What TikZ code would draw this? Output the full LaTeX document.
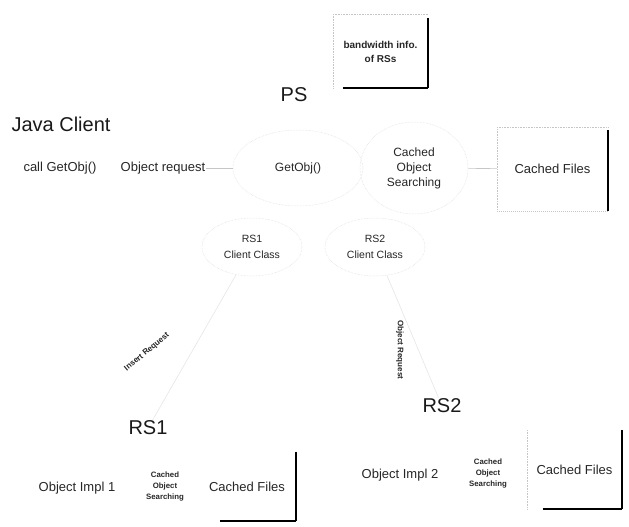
\documentclass[tikz,border=0pt]{standalone}
\usepackage{fontspec}
\setmainfont{Liberation Sans}
\usetikzlibrary{shapes.geometric}
\begin{document}
\begin{tikzpicture}[x=1pt,y=-1pt,
  lbl/.style={font=\fontsize{13}{15}\selectfont, inner sep=1pt, text=black!85, align=center},
  big/.style={font=\fontsize{20}{22}\selectfont, inner sep=1pt, text=black!90},
  mid/.style={font=\fontsize{10.5}{16}\selectfont, inner sep=1pt, text=black!85, align=center},
  small/.style={font=\fontsize{7.8}{11}\selectfont\bfseries, align=center, inner sep=1pt, text=black!85},
  rotlbl/.style={font=\fontsize{8}{9}\selectfont\bfseries, inner sep=1pt, text=black!85},
  oval/.style={ellipse, draw=gray!30, densely dotted, line width=0.5pt, inner sep=0pt},
  filebox/.style={rectangle, inner sep=0pt},
  faint/.style={draw=gray!45, densely dotted, line width=0.6pt},
  heavy/.style={draw=black, line width=1.5pt},
  conn/.style={draw=gray!45, line width=0.6pt},
]
\useasboundingbox (0,0) rectangle (629,527);

% --- bandwidth box ---
\node[filebox, minimum width=95pt, minimum height=73pt,
      font=\fontsize{10}{14}\selectfont\bfseries, align=center, text=black!85] (bw) at (380.5,51.5) {bandwidth info.\\of RSs};
\draw[faint] (bw.south west) -- (bw.north west) -- (bw.north east);
\draw[heavy] ([yshift=-3pt]bw.north east) -- (bw.south east);
\draw[heavy] ([xshift=10pt]bw.south west) -- (bw.south east);

% --- titles ---
\node[big] (ps) at (294,95) {PS};
\node[big] (jc) at (61,124) {Java Client};
\node[big] (rs1) at (148,428) {RS1};
\node[big] (rs2) at (442,406) {RS2};

% --- Java client row ---
\node[lbl] (call) at (60,168) {call GetObj()};
\node[lbl] (req) at (163,168) {Object request};
\node[oval, minimum width=130pt, minimum height=76pt, font=\fontsize{12}{14}\selectfont, text=black!85] (get) at (298,168) {GetObj()};
\node[oval, minimum width=108pt, minimum height=92pt, font=\fontsize{12}{15}\selectfont, align=center, text=black!85] (cos) at (414,168) {Cached\\Object\\Searching};
\node[filebox, minimum width=111pt, minimum height=84pt, font=\fontsize{13}{15}\selectfont, text=black!85] (cf) at (552.5,169) {Cached Files};
\draw[faint] (cf.south west) -- (cf.north west) -- (cf.north east);
\draw[heavy] ([yshift=-3pt]cf.north east) -- (cf.south east);
\draw[faint, line width=1pt] (cf.south west) -- (cf.south east);

\draw[conn] (req) -- (get);
\draw[conn] (cos) -- (cf);

% --- RS client classes ---
\node[oval, minimum width=100pt, minimum height=58pt, mid] (rs1c) at (252,247) {RS1\\Client Class};
\node[oval, minimum width=100pt, minimum height=58pt, mid] (rs2c) at (375,247) {RS2\\Client Class};

\draw[conn, draw=gray!20] (rs1c) -- (rs1);
\draw[conn, draw=gray!20] (rs2c) -- (rs2);
\node[rotlbl, rotate=40] (ins) at (147,352) {Insert Request};
\node[rotlbl, rotate=-90] (objr) at (400,350) {Object Request};

% --- RS1 ---
\node[lbl] (oi1) at (77,488) {Object Impl 1};
\node[small] (cos1) at (165,486) {Cached\\Object\\Searching};
\node[filebox, minimum width=98pt, minimum height=69pt, font=\fontsize{13}{15}\selectfont, text=black!85] (cf1) at (247,486.5) {Cached Files};
\draw[heavy] (cf1.north east) -- (cf1.south east);
\draw[heavy] ([xshift=22pt]cf1.south west) -- (cf1.south east);

% --- RS2 ---
\node[lbl] (oi2) at (400,475) {Object Impl 2};
\node[small] (cos2) at (488,473) {Cached\\Object\\Searching};
\node[filebox, minimum width=95pt, minimum height=79pt, font=\fontsize{13}{15}\selectfont, text=black!85] (cf2) at (574.5,469.5) {Cached Files};
\draw[faint] (cf2.south west) -- (cf2.north west);
\draw[heavy] (cf2.north east) -- (cf2.south east);
\draw[heavy] ([xshift=16pt]cf2.south west) -- (cf2.south east);
\end{tikzpicture}
\end{document}
